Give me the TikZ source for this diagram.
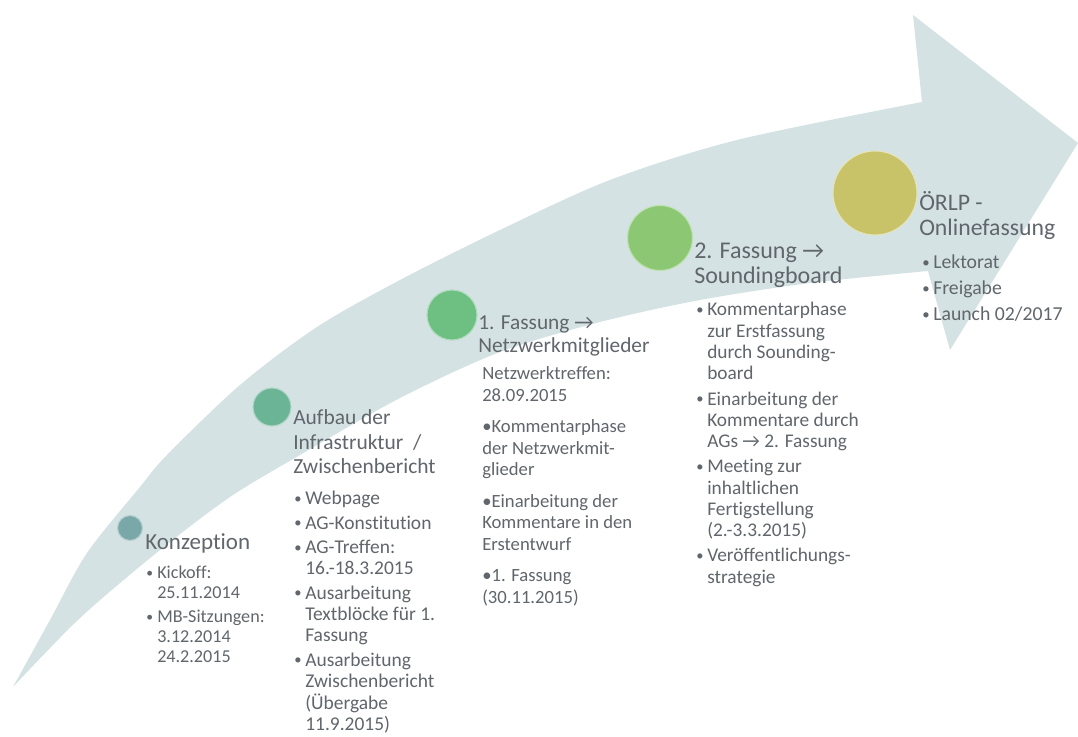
\documentclass[tikz,border=0pt]{standalone}
\usepackage{fontspec}
\setmainfont{Carlito}[Ligatures=NoCommon]
\usetikzlibrary{positioning}
\definecolor{bandGray}{HTML}{D4E2E4}
\definecolor{textGray}{HTML}{60666B}
\definecolor{phaseOne}{HTML}{7AA8A8}
\definecolor{phaseTwo}{HTML}{6CB496}
\definecolor{phaseThree}{HTML}{6EC082}
\definecolor{phaseFour}{HTML}{8CC873}
\definecolor{phaseFive}{HTML}{C8C369}
\newcommand{\blt}{\makebox[8.25pt][l]{\raisebox{0.08em}{\scalebox{0.75}{•}}}}
\tikzset{
  phase/.style={circle, inner sep=0pt, line width=0.8pt},
  lbl/.style={anchor=base west, inner sep=0pt, text=textGray},
}

\begin{document}
\begin{tikzpicture}[x=0.75pt, y=-0.75pt]
    \useasboundingbox (0,0) rectangle (1078,737);
    \fill[white] (0,0) rectangle (1078,737);

    % Arrow band
    \fill[bandGray] plot[smooth] coordinates {(13,687) (50,620) (87,553) (140,487) (167,455) (240,385) (317,327) (400,280) (500,230) (610,180) (737,140) (922,102)}
        -- (913,15) -- (1078,143) -- (950,350) -- (928,271)
        -- plot[smooth] coordinates {(928,271) (810,283) (700,300) (600,322) (500,352) (400,398) (300,455) (230,497) (160,550) (80,618) (13,687)} -- cycle;

    % Phases
    \node[phase, minimum size=18.75pt, fill=phaseOne, draw=phaseOne!55!white] (konz) at (130,528) {};
    \node[phase, minimum size=28.5pt, fill=phaseTwo, draw=phaseTwo!55!white] (aufbau) at (272,407) {};
    \node[phase, minimum size=37.5pt, fill=phaseThree, draw=phaseThree!55!white] (fassEins) at (452,315) {};
    \node[phase, minimum size=48.75pt, fill=phaseFour, draw=phaseFour!55!white] (fassZwei) at (660,238) {};
    \node[phase, minimum size=63pt, fill=phaseFive, draw=phaseFive!45!white] (orlp) at (875,193) {};

    % Headings
    \node[lbl, font=\fontsize{17.25}{20}\selectfont] (konzHead) at (145,549) {Konzeption};
    \node[lbl, font=\fontsize{16.1}{18.4}\selectfont] (aufbauHead) at (293,424.5)
        {\begin{tabular}[t]{@{}l@{}}Aufbau der\\ Infrastruktur~~/\\ Zwischenbericht\end{tabular}};
    \node[lbl, font=\fontsize{16}{17.3}\selectfont] (fassEinsHead) at (478,329.5)
        {\begin{tabular}[t]{@{}l@{}}1. Fassung →\\ Netzwerkmitglieder\end{tabular}};
    \node[lbl, font=\fontsize{18}{18.75}\selectfont] (fassZweiHead) at (694,259)
        {\begin{tabular}[t]{@{}l@{}}2. Fassung →\\ Soundingboard\end{tabular}};
    \node[lbl, font=\fontsize{17.8}{18.75}\selectfont] (orlpHead) at (919,211)
        {\begin{tabular}[t]{@{}l@{}}ÖRLP -\\ Onlinefassung\end{tabular}};

    % Lists
    \node[lbl, font=\fontsize{13.6}{15}\selectfont] (konzList) at (146,578.5)
        {\begin{tabular}[t]{@{}l@{}l@{}}
        \blt & Kickoff:\\ & 25.11.2014\\[3pt]
        \blt & MB-Sitzungen:\\ & 3.12.2014\\ & 24.2.2015
        \end{tabular}};
    \node[lbl, font=\fontsize{14.6}{15.9}\selectfont] (aufbauList) at (294,505)
        {\begin{tabular}[t]{@{}l@{}l@{}}
        \blt & Webpage\\[2.4pt]
        \blt & AG-Konstitution\\[2.4pt]
        \blt & AG-Treffen:\\ & 16.-18.3.2015\\[2.4pt]
        \blt & Ausarbeitung\\ & Textblöcke für 1.\\ & Fassung\\[2.4pt]
        \blt & Ausarbeitung\\ & Zwischenbericht\\ & (Übergabe\\ & 11.9.2015)
        \end{tabular}};
    \node[lbl, font=\fontsize{14}{16.1}\selectfont] (fassEinsList) at (482,380)
        {\begin{tabular}[t]{@{}l@{}}
        Netzwerktreffen:\\ 28.09.2015\\[7.5pt]
        •Kommentarphase\\ der Netzwerkmit-\\ glieder\\[7.5pt]
        •Einarbeitung der\\ Kommentare in den\\ Erstentwurf\\[7.5pt]
        •1. Fassung\\ (30.11.2015)
        \end{tabular}};
    \node[lbl, font=\fontsize{14.5}{16}\selectfont] (fassZweiList) at (696,316)
        {\begin{tabular}[t]{@{}l@{}l@{}}
        \blt & Kommentarphase\\ & zur Erstfassung\\ & durch Sounding-\\ & board\\[2.8pt]
        \blt & Einarbeitung der\\ & Kommentare durch\\ & AGs → 2. Fassung\\[2.8pt]
        \blt & Meeting zur\\ & inhaltlichen\\ & Fertigstellung\\ & (2.-3.3.2015)\\[2.8pt]
        \blt & Veröffentlichungs-\\ & strategie
        \end{tabular}};
    \node[lbl, font=\fontsize{14.8}{19.5}\selectfont] (orlpList) at (922,269)
        {\begin{tabular}[t]{@{}l@{}l@{}}
        \blt & Lektorat\\ \blt & Freigabe\\ \blt & Launch 02/2017
        \end{tabular}};
\end{tikzpicture}
\end{document}
